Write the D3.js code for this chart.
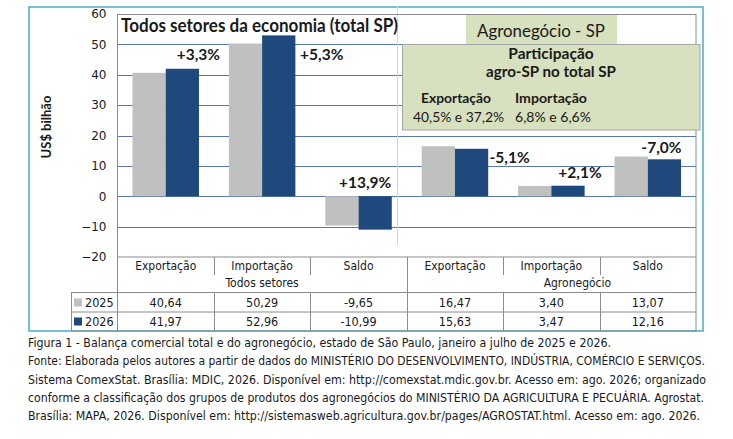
<!DOCTYPE html>
<html>
<head>
<meta charset="utf-8">
<script src="https://cdn.jsdelivr.net/npm/d3@7"></script>
<style>
body { margin: 0; background: #fff; }
svg { display: block; }
.tbl { font-family: "DejaVu Sans Condensed", "DejaVu Sans", sans-serif; fill: #1a1a1a; }
.cal { font-family: Lato, "Open Sans", sans-serif; fill: #1a1a1a; }
</style>
</head>
<body>
<svg id="chart" width="733" height="439"></svg>
<script>
// values (US$ bilhão)
var groups = ["Todos setores", "Agronegócio"];
var categories = ["Exportação", "Importação", "Saldo", "Exportação", "Importação", "Saldo"];
var categoryGroup = [0, 0, 0, 1, 1, 1];
var years = ["2025", "2026"];
var values2025 = [40.64, 50.29, -9.65, 16.47, 3.40, 13.07];
var values2026 = [41.97, 52.96, -10.99, 15.63, 3.47, 12.16];
var changes = ["+3,3%", "+5,3%", "+13,9%", "-5,1%", "+2,1%", "-7,0%"];
var yTicks = [-20, -10, 0, 10, 20, 30, 40, 50, 60];

var colors = {"2025": "#c0c0c0", "2026": "#1f497d"};
// where excel put the change labels, relative to the 2026 bar
var labelDx = [16, 43, -10, 38, 12, -3];
var labelDy = [-9, 25, -8, 14, -8, -6];
var groupLabelDx = [0, 26];

var caption = [
  "Figura 1 - Balança comercial total e do agronegócio, estado de São Paulo, janeiro a julho de 2025 e 2026.",
  "Fonte: Elaborada pelos autores a partir de dados do MINISTÉRIO DO DESENVOLVIMENTO, INDÚSTRIA, COMÉRCIO E SERVIÇOS.",
  "Sistema ComexStat. Brasília: MDIC, 2026. Disponível em: http://comexstat.mdic.gov.br. Acesso em: ago. 2026; organizado",
  "conforme a classificação dos grupos de produtos dos agronegócios do MINISTÉRIO DA AGRICULTURA E PECUÁRIA.  Agrostat.",
  "Brasília: MAPA, 2026. Disponível em: http://sistemasweb.agricultura.gov.br/pages/AGROSTAT.html. Acesso em: ago. 2026."
];
var captionLen = [583, 677, 678, 676, 672];

var svg = d3.select("#chart");
var locale = d3.formatLocale({decimal: ",", thousands: ".", grouping: [3], currency: ["", ""], minus: "-"});
var fmt = locale.format(".2f");

var plotLeft = 117.5, plotRight = 696, plotTop = 14, plotBottom = 257;
var keys = d3.range(categories.length);

var x = d3.scaleBand().domain(keys).range([plotLeft, plotRight]).padding(0);
var xs = d3.scaleBand().domain(years).range([0, x.bandwidth()]).paddingInner(0).paddingOuter(0.45);
var y = d3.scaleLinear().domain([-20, 60]).range([plotBottom, plotTop]);

var series = {"2025": values2025, "2026": values2026};

// outer frame
svg.append("rect").attr("x", 29).attr("y", 7).attr("width", 674).attr("height", 324)
  .attr("fill", "none").attr("stroke", "#4bacc6").attr("stroke-width", 1.5);

// gridlines
svg.append("g").selectAll("line").data(yTicks.slice(1, -1)).join("line")
  .attr("x1", plotLeft).attr("x2", plotRight)
  .attr("y1", d => Math.round(y(d)) + 0.5).attr("y2", d => Math.round(y(d)) + 0.5)
  .attr("stroke", "#5a79a8").attr("stroke-width", 1);

// divider between the two groups
svg.append("line").attr("x1", 397.5).attr("x2", 397.5).attr("y1", 6).attr("y2", 245)
  .attr("stroke", "#cfd6dd").attr("stroke-width", 1);

// bars
var bars = svg.append("g");
years.forEach(function(yr){
  bars.selectAll(null).data(keys).join("rect")
    .attr("x", i => x(i) + xs(yr))
    .attr("width", xs.bandwidth())
    .attr("y", i => y(Math.max(0, series[yr][i])))
    .attr("height", i => Math.abs(y(series[yr][i]) - y(0)))
    .attr("fill", colors[yr]);
});

// plot border
svg.append("rect").attr("x", plotLeft).attr("y", plotTop + 0.5).attr("width", plotRight - plotLeft).attr("height", plotBottom - plotTop - 0.5)
  .attr("fill", "none").attr("stroke", "#8c8c8c").attr("stroke-width", 1);

// y axis
var yAxis = d3.axisLeft(y).tickValues(yTicks).tickSize(0).tickPadding(11);
var ga = svg.append("g").attr("transform", "translate(" + plotLeft + ",0)").call(yAxis);
ga.select(".domain").remove();
ga.selectAll("text").attr("font-family", "DejaVu Sans, sans-serif").attr("font-size", 12).attr("fill", "#1a1a1a");

svg.append("text").attr("transform", "translate(51,127) rotate(-90)")
  .attr("text-anchor", "middle").attr("class", "cal")
  .attr("font-size", 13).attr("font-weight", "bold").text("US$  bilhão");

// title of the first group
svg.append("text").attr("class", "cal").attr("x", 121).attr("y", 32)
  .attr("font-size", 18).attr("font-weight", "bold").attr("fill", "#140808")
  .attr("textLength", 277).attr("lengthAdjust", "spacingAndGlyphs")
  .text("Todos setores da economia (total SP)");

// change labels
svg.append("g").selectAll("text").data(keys).join("text")
  .attr("class", "cal")
  .attr("x", i => x(i) + xs("2026") + xs.bandwidth() / 2 + labelDx[i])
  .attr("y", i => y(Math.max(0, values2026[i])) + labelDy[i])
  .attr("text-anchor", "middle").attr("font-size", 15.5).attr("font-weight", "bold")
  .text(i => changes[i]);

// agro box
var boxFill = "#d7e0bf";
svg.append("rect").attr("x", 466).attr("y", 15).attr("width", 151).attr("height", 30).attr("fill", boxFill);
svg.append("rect").attr("x", 402.5).attr("y", 44.5).attr("width", 297.5).attr("height", 85.5)
  .attr("fill", boxFill).attr("stroke", "#a6a6a6").attr("stroke-width", 1);
svg.append("text").attr("class", "cal").attr("x", 541).attr("y", 37).attr("text-anchor", "middle")
  .attr("font-size", 16.5).attr("textLength", 128).attr("lengthAdjust", "spacingAndGlyphs").text("Agronegócio - SP");
svg.append("text").attr("class", "cal").attr("x", 551).attr("y", 59).attr("text-anchor", "middle")
  .attr("font-size", 15.5).attr("font-weight", "bold").text("Participação");
svg.append("text").attr("class", "cal").attr("x", 551).attr("y", 77).attr("text-anchor", "middle")
  .attr("font-size", 15.5).attr("font-weight", "bold").attr("textLength", 130).attr("lengthAdjust", "spacingAndGlyphs")
  .text("agro-SP no total SP");
svg.append("text").attr("class", "cal").attr("x", 421).attr("y", 103).attr("font-size", 13.5)
  .attr("font-weight", "bold").attr("textLength", 70).attr("lengthAdjust", "spacingAndGlyphs").text("Exportação");
svg.append("text").attr("class", "cal").attr("x", 515).attr("y", 103).attr("font-size", 13.5)
  .attr("font-weight", "bold").attr("textLength", 72).attr("lengthAdjust", "spacingAndGlyphs").text("Importação");
svg.append("text").attr("class", "cal").attr("x", 413).attr("y", 122).attr("font-size", 13.5)
  .attr("textLength", 91).attr("lengthAdjust", "spacingAndGlyphs").text("40,5% e 37,2%");
svg.append("text").attr("class", "cal").attr("x", 515).attr("y", 122).attr("font-size", 13.5)
  .attr("textLength", 76).attr("lengthAdjust", "spacingAndGlyphs").text("6,8% e 6,6%");

// data table under the plot
var rowTop = 292, row1 = 311.5, tblBottom = 331, legLeft = 71.5;
var tline = "#8c8c8c";
var tg = svg.append("g").attr("stroke", tline).attr("stroke-width", 1);
keys.slice(1).forEach(function(i){
  var bx = Math.round(x(i)) + 0.5;
  var full = categoryGroup[i] !== categoryGroup[i - 1];
  tg.append("line").attr("x1", bx).attr("x2", bx).attr("y1", plotBottom).attr("y2", full ? tblBottom : 275);
  tg.append("line").attr("x1", bx).attr("x2", bx).attr("y1", rowTop).attr("y2", tblBottom);
});
tg.append("line").attr("x1", plotLeft).attr("x2", plotLeft).attr("y1", plotBottom).attr("y2", tblBottom);
tg.append("line").attr("x1", plotRight).attr("x2", plotRight).attr("y1", plotBottom).attr("y2", tblBottom);
tg.append("line").attr("x1", legLeft).attr("x2", legLeft).attr("y1", rowTop).attr("y2", tblBottom);
[rowTop, row1, tblBottom - 0.5].forEach(function(ly){
  tg.append("line").attr("x1", legLeft).attr("x2", plotRight).attr("y1", ly + 0.5).attr("y2", ly + 0.5);
});

svg.append("g").selectAll("text").data(keys).join("text").attr("class", "tbl")
  .attr("x", i => x(i) + x.bandwidth() / 2).attr("y", 270).attr("text-anchor", "middle")
  .attr("font-size", 12).text(i => categories[i]);

svg.append("g").selectAll("text").data(groups).join("text").attr("class", "tbl")
  .attr("x", (g, gi) => {
    var idx = keys.filter(i => categoryGroup[i] === gi);
    return (x(idx[0]) + x(idx[idx.length - 1]) + x.bandwidth()) / 2 + groupLabelDx[gi];
  })
  .attr("y", 287).attr("text-anchor", "middle").attr("font-size", 12).text(g => g);

years.forEach(function(yr, r){
  var cy = r === 0 ? 302.5 : 321.5;
  svg.append("rect").attr("x", 74).attr("y", cy - 4).attr("width", 8).attr("height", 8).attr("fill", colors[yr]);
  svg.append("text").attr("class", "tbl").attr("x", 85).attr("y", cy + 4.5).attr("font-size", 12.5).text(yr);
  svg.append("g").selectAll("text").data(keys).join("text").attr("class", "tbl")
    .attr("x", i => x(i) + x.bandwidth() / 2).attr("y", cy + 4.5).attr("text-anchor", "middle")
    .attr("font-size", 12.5).text(i => fmt(series[yr][i]));
});

// caption
svg.append("g").selectAll("text").data(caption).join("text").attr("class", "tbl")
  .attr("x", 28).attr("y", (d, i) => 347 + i * 18.3)
  .attr("font-size", 12).attr("textLength", (d, i) => captionLen[i]).attr("lengthAdjust", "spacingAndGlyphs")
  .text(d => d);
</script>
</body>
</html>
